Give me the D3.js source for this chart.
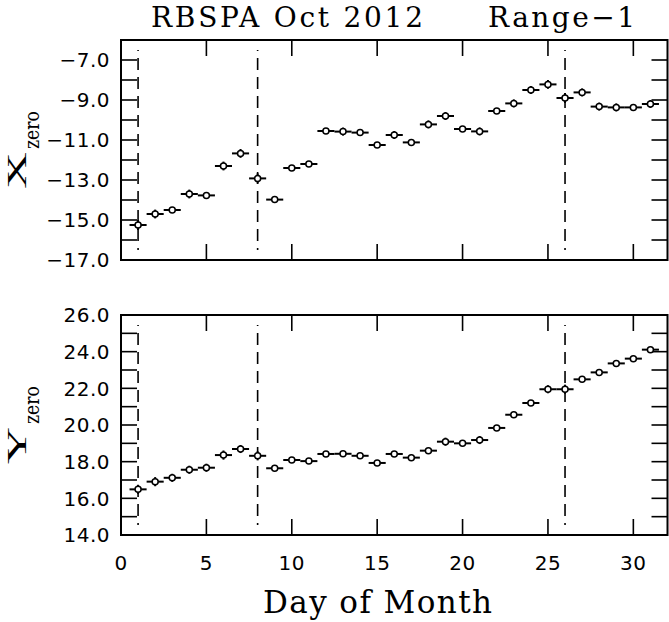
<!DOCTYPE html>
<html>
<head>
<meta charset="utf-8">
<script src="https://cdn.jsdelivr.net/npm/d3@7"></script>
<style>
html,body{margin:0;padding:0;background:#fff;}
svg{display:block;}
</style>
</head>
<body>
<svg id="chart" width="669" height="622"></svg>
<script>
// ---- data ----
const days = [1,2,3,4,5,6,7,8,9,10,11,12,13,14,15,16,17,18,19,20,21,22,23,24,25,26,27,28,29,30,31];
const xZero = [-15.25,-14.70,-14.50,-13.70,-13.77,-12.30,-11.67,-12.92,-13.98,-12.40,-12.20,-10.55,-10.58,-10.63,-11.25,-10.75,
               -11.12,-10.22,-9.80,-10.45,-10.57,-9.55,-9.17,-8.50,-8.22,-8.90,-8.62,-9.33,-9.37,-9.37,-9.20];
const xZeroErr = [0.25,0.22,0.15,0.22,0.15,0.22,0.22,0.25,0.10,0.15,0.15,0.15,0.20,0.15,0.12,0.20,
                  0.12,0.20,0.20,0.15,0.20,0.15,0.20,0.20,0.22,0.25,0.20,0.20,0.20,0.15,0.20];
const yZero = [16.49,16.91,17.12,17.56,17.67,18.36,18.69,18.32,17.64,18.09,18.03,18.42,18.43,18.32,17.93,18.42,
               18.22,18.60,19.09,19.00,19.18,19.84,20.56,21.20,21.95,21.95,22.49,22.87,23.36,23.62,24.11];
const yZeroErr = [0.25,0.25,0.22,0.22,0.22,0.25,0.22,0.25,0.15,0.15,0.15,0.15,0.15,0.15,0.15,0.15,
                  0.15,0.15,0.22,0.15,0.22,0.15,0.15,0.15,0.22,0.25,0.15,0.15,0.15,0.15,0.15];
const binHalfWidth = 0.5;
const markerDays = [1, 8, 26];
const xTickValues = [0,5,10,15,20,25,30];
const xDomain = [0, 32];
const topDomain = [-17, -6];
const topLabelTicks = [-7,-9,-11,-13,-15,-17];
const topMinorTicks = [-7,-8,-9,-10,-11,-12,-13,-14,-15,-16];
const botDomain = [14, 26];
const botLabelTicks = [26,24,22,20,18,16,14];
const botMinorTicks = [15,16,17,18,19,20,21,22,23,24,25];
const titleLeft = "RBSPA Oct 2012";
const titleRight = "Range\u22121";
const xTitle = "Day of Month";

// ---- layout ----
const svg = d3.select("#chart");
const L = 121, R = 667.5;
const x = d3.scaleLinear().domain(xDomain).range([L, R]);
const fmt = d3.format(".1f");
const tickLen = 16;

const panels = [
  {top:40, bottom:260, domain:topDomain, labels:topLabelTicks, minors:topMinorTicks,
   vals:xZero, errs:xZeroErr, title:"X", sub:"zero", xLabels:false},
  {top:315, bottom:535, domain:botDomain, labels:botLabelTicks, minors:botMinorTicks,
   vals:yZero, errs:yZeroErr, title:"Y", sub:"zero", xLabels:true}
];

panels.forEach(p => {
  const y = d3.scaleLinear().domain(p.domain).range([p.bottom, p.top]);
  const g = svg.append("g");

  // dashed marker lines
  g.selectAll("line.mark").data(markerDays).join("line")
    .attr("x1", d => x(d)).attr("x2", d => x(d))
    .attr("y1", p.top + 10).attr("y2", p.bottom - 10)
    .attr("stroke", "#000").attr("stroke-width", 1.6)
    .attr("stroke-dasharray", "12,7")
    .attr("stroke-dashoffset", 11);

  // y ticks left/right
  const yt = g.append("g").attr("stroke", "#000").attr("stroke-width", 1.6);
  yt.selectAll("line.l").data(p.minors).join("line")
    .attr("x1", L).attr("x2", L + tickLen)
    .attr("y1", d => y(d)).attr("y2", d => y(d));
  yt.selectAll("line.r").data(p.minors).join("line").attr("class","r")
    .attr("x1", R - tickLen).attr("x2", R)
    .attr("y1", d => y(d)).attr("y2", d => y(d));
  // x ticks top/bottom
  const xt = xTickValues.filter(d => d > xDomain[0]);
  yt.selectAll("line.b").data(xt).join("line").attr("class","b")
    .attr("x1", d => x(d)).attr("x2", d => x(d))
    .attr("y1", p.bottom).attr("y2", p.bottom - tickLen);
  yt.selectAll("line.t").data(xt).join("line").attr("class","t")
    .attr("x1", d => x(d)).attr("x2", d => x(d))
    .attr("y1", p.top).attr("y2", p.top + tickLen);

  // frame
  g.append("rect").attr("x", L).attr("y", p.top)
    .attr("width", R - L).attr("height", p.bottom - p.top)
    .attr("fill", "none").attr("stroke", "#000").attr("stroke-width", 2);

  // y tick labels
  g.selectAll("text.yl").data(p.labels).join("text")
    .attr("x", L - 11).attr("y", d => y(d))
    .attr("dy", "0.36em")
    .attr("text-anchor", "end")
    .attr("font-family", "DejaVu Sans")
    .attr("font-size", 20)
    .attr("letter-spacing", 0.5)
    .text(d => fmt(d));

  // data: error bars and circles
  const pts = days.map((d, i) => ({day:d, v:p.vals[i], e:p.errs[i]}));
  const dg = g.append("g");
  dg.selectAll("line.h").data(pts).join("line")
    .attr("x1", d => x(d.day - binHalfWidth)).attr("x2", d => x(d.day + binHalfWidth))
    .attr("y1", d => y(d.v)).attr("y2", d => y(d.v))
    .attr("stroke", "#000").attr("stroke-width", 2);
  dg.selectAll("line.v").data(pts).join("line").attr("class","v")
    .attr("x1", d => x(d.day)).attr("x2", d => x(d.day))
    .attr("y1", d => y(d.v - d.e)).attr("y2", d => y(d.v + d.e))
    .attr("stroke", "#000").attr("stroke-width", 2);
  dg.selectAll("circle").data(pts).join("circle")
    .attr("cx", d => x(d.day)).attr("cy", d => y(d.v))
    .attr("r", 3).attr("fill", "#fff")
    .attr("stroke", "#000").attr("stroke-width", 1.5);

  // axis title (rotated)
  const mid = (p.top + p.bottom) / 2;
  const tg = svg.append("g").attr("transform", `translate(26,${mid + 39}) rotate(-90)`);
  tg.append("text").attr("x", 0).attr("y", 0)
    .attr("font-family", "Liberation Serif").attr("font-size", 27)
    .attr("textLength", 37).attr("lengthAdjust", "spacingAndGlyphs")
    .text(p.title);
  tg.append("text").attr("x", 40).attr("y", 13)
    .attr("font-family", "DejaVu Serif").attr("font-size", 20)
    .attr("textLength", 38).attr("lengthAdjust", "spacingAndGlyphs")
    .text(p.sub);

  if (p.xLabels) {
    g.selectAll("text.xl").data(xTickValues).join("text")
      .attr("x", d => x(d)).attr("y", p.bottom + 35)
      .attr("text-anchor", "middle")
      .attr("font-family", "DejaVu Sans")
      .attr("font-size", 20)
      .attr("letter-spacing", 0.5)
      .text(d => d);
  }
});

// titles
svg.append("text").attr("x", 151).attr("y", 27)
  .attr("font-family", "DejaVu Serif").attr("font-size", 28)
  .attr("textLength", 272).attr("lengthAdjust", "spacing")
  .text(titleLeft);
svg.append("text").attr("x", 488).attr("y", 27)
  .attr("font-family", "DejaVu Serif").attr("font-size", 28)
  .attr("textLength", 147).attr("lengthAdjust", "spacing")
  .text(titleRight);
svg.append("text").attr("x", 263).attr("y", 613)
  .attr("font-family", "DejaVu Serif").attr("font-size", 31)
  .attr("textLength", 229).attr("lengthAdjust", "spacing")
  .text(xTitle);
</script>
</body>
</html>
